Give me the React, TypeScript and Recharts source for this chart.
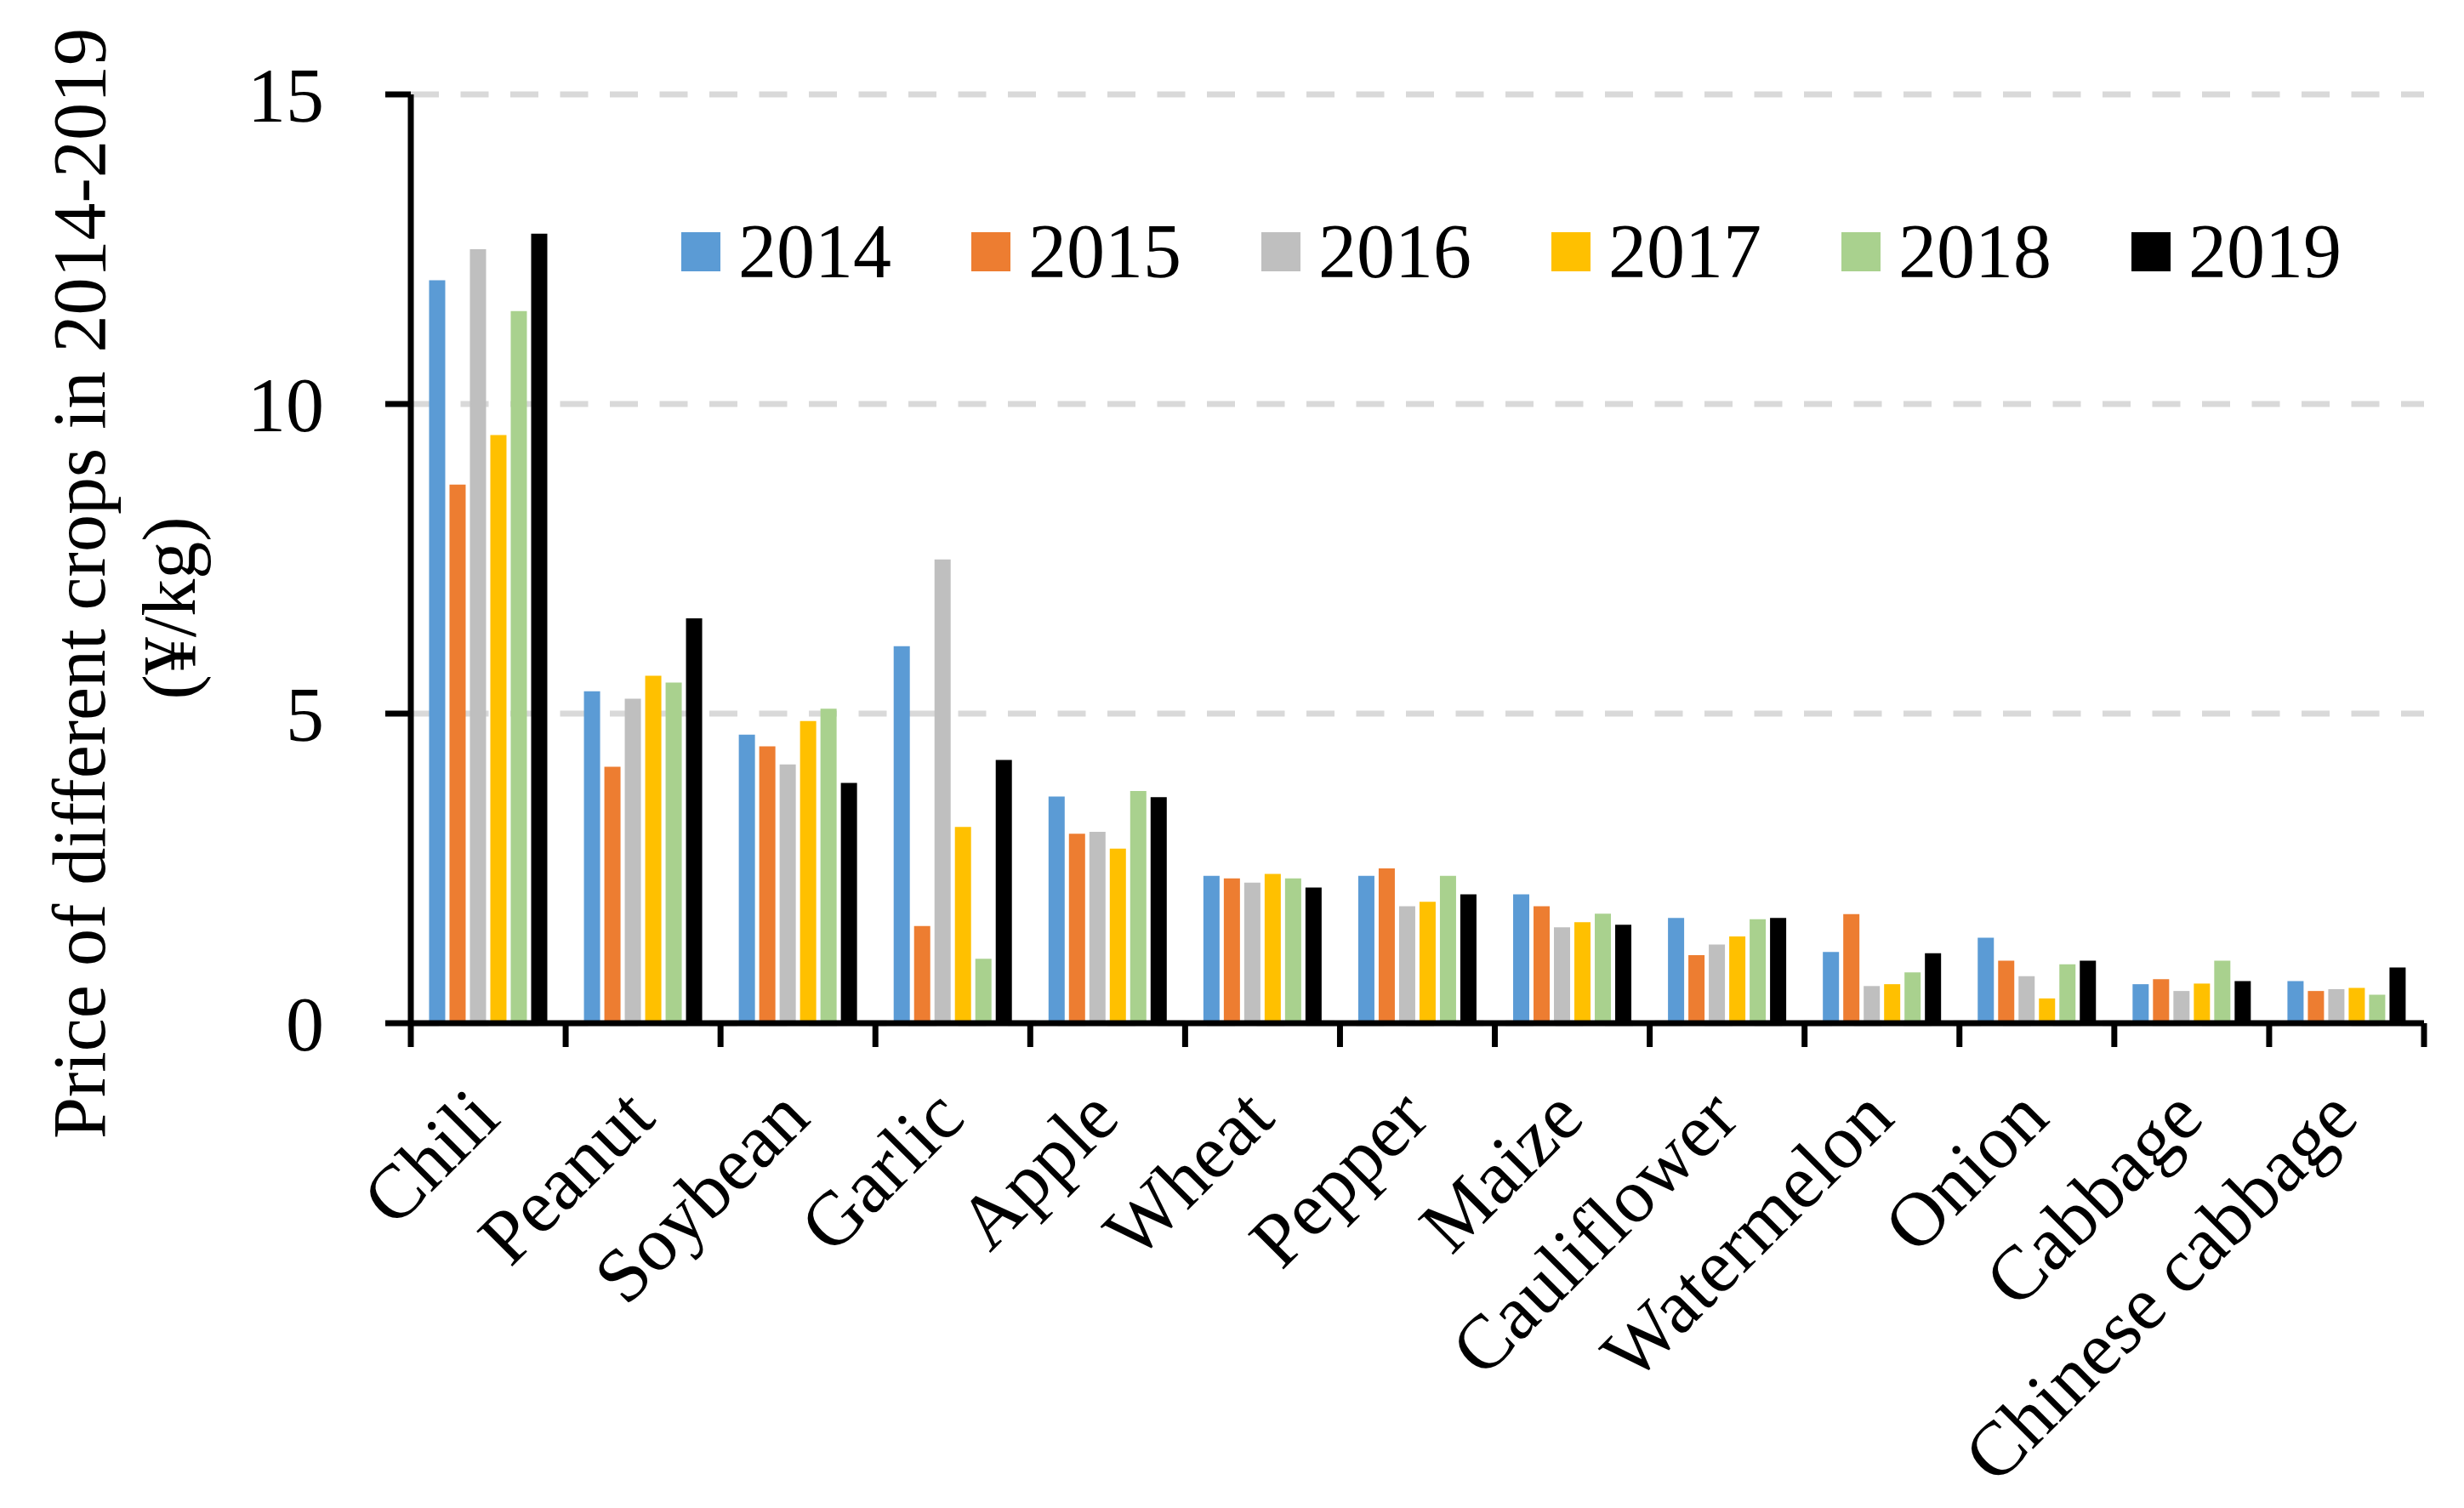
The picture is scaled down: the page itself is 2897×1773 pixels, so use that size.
import React from 'react';
import { BarChart, Bar, XAxis, YAxis, CartesianGrid, Legend, Label } from 'recharts';

const FONT = '"Liberation Serif", "Times New Roman", serif';

const CATEGORIES = [
  'Chili', 'Peanut', 'Soybean', 'Garlic', 'Apple', 'Wheat', 'Pepper',
  'Maize', 'Cauliflower', 'Watermelon', 'Onion', 'Cabbage', 'Chinese cabbage',
];
const YEARS = ['2014', '2015', '2016', '2017', '2018', '2019'];

const V2014 = [12.0, 5.36, 4.66, 6.09, 3.66, 2.38, 2.38, 2.08, 1.70, 1.15, 1.38, 0.63, 0.68];
const V2015 = [8.7, 4.14, 4.47, 1.57, 3.06, 2.34, 2.50, 1.89, 1.10, 1.76, 1.01, 0.71, 0.52];
const V2016 = [12.5, 5.24, 4.18, 7.49, 3.09, 2.27, 1.89, 1.55, 1.27, 0.60, 0.76, 0.52, 0.55];
const V2017 = [9.5, 5.61, 4.88, 3.17, 2.82, 2.41, 1.96, 1.63, 1.40, 0.63, 0.40, 0.64, 0.57];
const V2018 = [11.5, 5.50, 5.08, 1.04, 3.75, 2.34, 2.38, 1.77, 1.68, 0.82, 0.95, 1.01, 0.46];
const V2019 = [12.75, 6.54, 3.88, 4.25, 3.65, 2.19, 2.08, 1.59, 1.70, 1.13, 1.01, 0.68, 0.90];

const SERIES = [V2014, V2015, V2016, V2017, V2018, V2019];
const COLORS = ['#5B9BD5', '#ED7D31', '#BFBFBF', '#FFC000', '#A9D18E', '#000000'];
const Y_TICKS = [0, 5, 10, 15];

const data = CATEGORIES.map((name, i) => {
  const row: Record<string, number | string> = { name };
  YEARS.forEach((y, k) => {
    row[y] = SERIES[k][i];
  });
  return row;
});

const W = 2897;
const H = 1773;
const PLOT_LEFT = 483;
const PLOT_RIGHT = 2850;
const PLOT_TOP = 111;
const PLOT_BOTTOM = 1203;
const BAND = (PLOT_RIGHT - PLOT_LEFT) / CATEGORIES.length;

function XTick(props: any) {
  const { x, y, payload, index } = props;
  const half = BAND / 2;
  const isLast = index === CATEGORIES.length - 1;
  const tx = x + 17;
  const ty = y + 115;
  return (
    <g>
      <line x1={x - half} x2={x - half} y1={y} y2={y + 28} stroke="#000" strokeWidth={7} />
      {isLast && (
        <line x1={x + half} x2={x + half} y1={y} y2={y + 28} stroke="#000" strokeWidth={7} />
      )}
      <text
        x={tx}
        y={ty}
        transform={`rotate(-45 ${tx} ${ty})`}
        textAnchor="end"
        fontSize={90}
        fontFamily={FONT}
        fill="#000"
      >
        {payload.value}
      </text>
    </g>
  );
}

function YTitle() {
  return (
    <g>
      <text
        x={123}
        y={686}
        transform="rotate(-90 123 686)"
        textAnchor="middle"
        fontSize={88}
        fontFamily={FONT}
        fill="#000"
      >
        Price of different crops in 2014-2019
      </text>
      <text
        x={229}
        y={715}
        transform="rotate(-90 229 715)"
        textAnchor="middle"
        fontSize={88}
        fontFamily={FONT}
        fill="#000"
      >
        (¥/kg)
      </text>
    </g>
  );
}

function LegendContent(props: any) {
  const { payload } = props;
  return (
    <div style={{ display: 'flex', flexDirection: 'row' }}>
      {(payload || []).map((entry: any) => (
        <div
          key={entry.value}
          style={{ width: 341, height: 90, display: 'flex', alignItems: 'center' }}
        >
          <span
            style={{
              display: 'inline-block',
              width: 46,
              height: 46,
              background: entry.color,
              marginRight: 21,
              flexShrink: 0,
            }}
          />
          <span style={{ fontSize: 90, lineHeight: '90px', fontFamily: FONT, color: '#000' }}>
            {entry.value}
          </span>
        </div>
      ))}
    </div>
  );
}

export default function App() {
  return (
    <div style={{ position: 'absolute', left: 0, top: 0, width: W, height: H, background: '#fff' }}>
      <BarChart
        width={W}
        height={H}
        data={data}
        margin={{ top: PLOT_TOP, right: W - PLOT_RIGHT, bottom: 0, left: 0 }}
        barCategoryGap="11.8%"
        barGap={5}
      >
        <CartesianGrid
          horizontal
          vertical={false}
          stroke="#D9D9D9"
          strokeWidth={7}
          strokeDasharray="33 25.5"
        />
        <XAxis
          dataKey="name"
          type="category"
          height={H - PLOT_BOTTOM}
          interval={0}
          tickLine={false}
          tickSize={0}
          tickMargin={0}
          axisLine={{ stroke: '#000', strokeWidth: 7 }}
          tick={<XTick />}
        />
        <YAxis
          type="number"
          domain={[0, 15]}
          ticks={Y_TICKS}
          interval={0}
          width={PLOT_LEFT}
          tickSize={30}
          tickMargin={72}
          tickLine={{ stroke: '#000', strokeWidth: 7 }}
          axisLine={{ stroke: '#000', strokeWidth: 7 }}
          tick={{ fontSize: 90, fontFamily: FONT, fill: '#000' }}
        >
          <Label content={<YTitle />} />
        </YAxis>
        <Legend
          layout="horizontal"
          verticalAlign="middle"
          align="center"
          content={<LegendContent />}
          wrapperStyle={{ left: 801, top: 251, width: 2100, height: 90 }}
        />
        {YEARS.map((y, k) => (
          <Bar key={y} dataKey={y} name={y} fill={COLORS[k]} isAnimationActive={false} />
        ))}
      </BarChart>
    </div>
  );
}
